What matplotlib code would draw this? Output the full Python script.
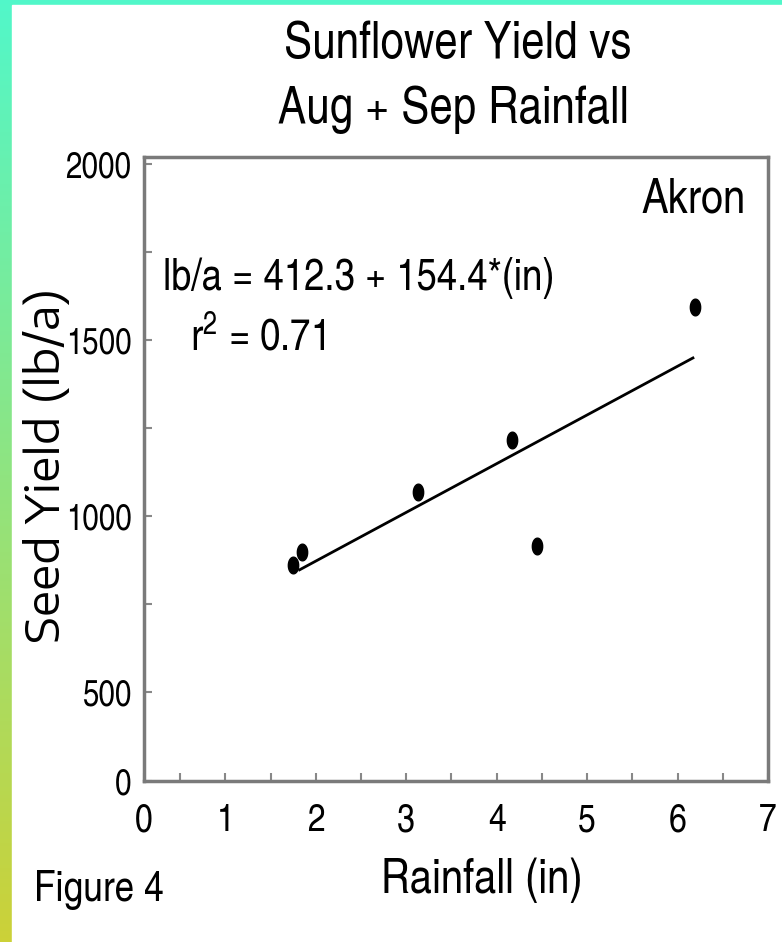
import numpy as np
import matplotlib
matplotlib.use("Agg")
import matplotlib.pyplot as plt
from matplotlib.patches import Rectangle
from matplotlib.path import Path

# ---- data ----
rain_in = [1.75, 1.85, 3.13, 4.17, 4.45, 6.19]
yield_lba = [861, 898, 1068, 1216, 915, 1594]
fit_x = [1.82, 6.17]
fit_y = [847, 1449]
x_tick_labels = ["0", "1", "2", "3", "4", "5", "6", "7"]
y_tick_labels = ["0", "500", "1000", "1500", "2000"]

W, H = 782, 942
fig = plt.figure(figsize=(W / 100, H / 100), dpi=100)

# gradient frame
bg = fig.add_axes([0, 0, 1, 1])
top = np.array([0.32, 0.97, 0.79])
bot = np.array([0.80, 0.82, 0.22])
t = np.linspace(0, 1, 256)[:, None]
grad = (top[None, :] * (1 - t) + bot[None, :] * t)[:, None, :]
bg.imshow(grad, aspect="auto", extent=[0, 1, 0, 1], origin="upper")
bg.add_patch(Rectangle((12 / W, 0), 1, 1 - 5 / H, color="white", transform=bg.transAxes))
bg.set_xlim(0, 1); bg.set_ylim(0, 1)
bg.axis("off")

cn = ["TeX Gyre Heros Cn", "DejaVu Sans"]
wide = ["Encode Sans Expanded", "TeX Gyre Heros", "DejaVu Sans"]

ax = fig.add_axes([144 / W, 1 - 781 / H, (768 - 144) / W, (781 - 157) / H])
ax.set_xlim(0.1, 7.0)
ax.set_ylim(247, 2020)

th = np.linspace(0, 2 * np.pi, 40)
ell = Path(np.column_stack([0.62 * np.cos(th), np.sin(th)]))
ax.plot(fit_x, fit_y, color="black", lw=2.0)
ax.plot(rain_in, yield_lba, linestyle="none", marker=ell, markersize=12,
        color="black")

ax.set_xticks([0.1, 1, 2, 3, 4, 5, 6, 7])
ax.set_xticklabels(x_tick_labels)
ax.set_xticks(np.arange(0.5, 7.0, 0.5), minor=True)
ax.set_yticks([247, 500, 1000, 1500, 2000])
ax.set_yticklabels(y_tick_labels)
ax.set_yticks([750, 1250, 1750], minor=True)
for lab in ax.get_xticklabels():
    lab.set_family(cn)
    lab.set_fontsize(28)
for lab in ax.get_yticklabels():
    lab.set_family(cn)
    lab.set_fontsize(26)
ax.tick_params(which="both", direction="in", length=6, width=1.5, color="#888888")
ax.tick_params(axis="x", pad=16)
ax.tick_params(axis="y", pad=9)
for s in ax.spines.values():
    s.set_color("#7a7a7a")
    s.set_linewidth(2.5)

ax.set_xlabel("Rainfall (in)", family=cn, fontsize=35)
ax.xaxis.set_label_coords((482 - 144) / 624, -(880 - 781) / 624, transform=ax.transAxes)
ax.xaxis.label.set_va("center")
ax.set_ylabel("Seed Yield (lb/a)", family=wide, fontsize=32)
ax.yaxis.set_label_coords(-(144 - 47) / 624, (781 - 465) / 624)
ax.yaxis.label.set_va("center")

ax.text((163 - 144) / 624, (781 - 278) / 624, "lb/a = 412.3 + 154.4*(in)",
        transform=ax.transAxes, family=cn, fontsize=32, va="center", ha="left")
ax.text((190 - 144) / 624, (781 - 338) / 624, r"r$^{\mathregular{2}}$ = 0.71",
        transform=ax.transAxes, family=cn, fontsize=32, va="center", ha="left")
ax.text((746 - 144) / 624, (781 - 200) / 624, "Akron", transform=ax.transAxes,
        family=cn, fontsize=35, va="center", ha="right")

fig.text(458 / W, 1 - 45 / H, "Sunflower Yield vs", family=cn,
         fontsize=37, ha="center", va="center")
fig.text(453 / W, 1 - 110 / H, "Aug + Sep Rainfall", family=cn,
         fontsize=37, ha="center", va="center")
fig.text(34 / W, 1 - 890 / H, "Figure 4", family=cn, fontsize=31,
         ha="left", va="center")

fig.savefig("out.png", dpi=100)
